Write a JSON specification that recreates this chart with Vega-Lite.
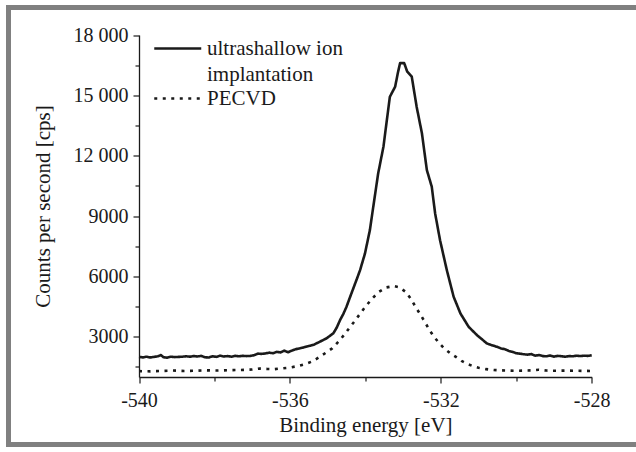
{
  "$schema": "https://vega.github.io/schema/vega-lite/v6.json",
  "width": 637.5,
  "height": 437,
  "autosize": {"type": "none"},
  "padding": {"left": 8.5, "top": 7.5, "right": -10, "bottom": 7.5},
  "background": "white",
  "config": {
    "font": "Liberation Serif",
    "view": {"stroke": "#808080", "strokeWidth": 5},
    "style": {
      "guide-label": {"font": "Liberation Serif", "fontSize": 20, "fill": "#1a1a1a", "lineHeight": 26},
      "guide-title": {"font": "Liberation Serif", "fontSize": 21, "fill": "#1a1a1a", "fontWeight": "normal"}
    },
    "axis": {
      "grid": false,
      "domainColor": "#1a1a1a",
      "domainWidth": 1.3,
      "tickColor": "#1a1a1a",
      "tickWidth": 1.2,
      "labelColor": "#1a1a1a",
      "labelFontSize": 20,
      "labelFont": "Liberation Serif",
      "titleColor": "#1a1a1a",
      "titleFontSize": 21,
      "titleFont": "Liberation Serif",
      "titleFontWeight": "normal"
    },
    "legend": {"labelFont": "Liberation Serif", "labelFontSize": 21}
  },
  "data": {
    "values": [
      {"E": -540.0, "cps": 2000, "series": "ultrashallow ion implantation"},
      {"E": -539.9, "cps": 1975, "series": "ultrashallow ion implantation"},
      {"E": -539.8, "cps": 2010, "series": "ultrashallow ion implantation"},
      {"E": -539.7, "cps": 1970, "series": "ultrashallow ion implantation"},
      {"E": -539.6, "cps": 2000, "series": "ultrashallow ion implantation"},
      {"E": -539.5, "cps": 2030, "series": "ultrashallow ion implantation"},
      {"E": -539.42, "cps": 2090, "series": "ultrashallow ion implantation"},
      {"E": -539.35, "cps": 1980, "series": "ultrashallow ion implantation"},
      {"E": -539.25, "cps": 1960, "series": "ultrashallow ion implantation"},
      {"E": -539.15, "cps": 2010, "series": "ultrashallow ion implantation"},
      {"E": -539.05, "cps": 1990, "series": "ultrashallow ion implantation"},
      {"E": -538.95, "cps": 2000, "series": "ultrashallow ion implantation"},
      {"E": -538.85, "cps": 2010, "series": "ultrashallow ion implantation"},
      {"E": -538.75, "cps": 2030, "series": "ultrashallow ion implantation"},
      {"E": -538.65, "cps": 2010, "series": "ultrashallow ion implantation"},
      {"E": -538.55, "cps": 2040, "series": "ultrashallow ion implantation"},
      {"E": -538.45, "cps": 2020, "series": "ultrashallow ion implantation"},
      {"E": -538.35, "cps": 2050, "series": "ultrashallow ion implantation"},
      {"E": -538.25, "cps": 1980, "series": "ultrashallow ion implantation"},
      {"E": -538.15, "cps": 1970, "series": "ultrashallow ion implantation"},
      {"E": -538.05, "cps": 2030, "series": "ultrashallow ion implantation"},
      {"E": -537.95, "cps": 2000, "series": "ultrashallow ion implantation"},
      {"E": -537.85, "cps": 2060, "series": "ultrashallow ion implantation"},
      {"E": -537.75, "cps": 2020, "series": "ultrashallow ion implantation"},
      {"E": -537.65, "cps": 2040, "series": "ultrashallow ion implantation"},
      {"E": -537.55, "cps": 2010, "series": "ultrashallow ion implantation"},
      {"E": -537.45, "cps": 2050, "series": "ultrashallow ion implantation"},
      {"E": -537.35, "cps": 2030, "series": "ultrashallow ion implantation"},
      {"E": -537.25, "cps": 2050, "series": "ultrashallow ion implantation"},
      {"E": -537.15, "cps": 2040, "series": "ultrashallow ion implantation"},
      {"E": -537.05, "cps": 2050, "series": "ultrashallow ion implantation"},
      {"E": -536.95, "cps": 2080, "series": "ultrashallow ion implantation"},
      {"E": -536.85, "cps": 2160, "series": "ultrashallow ion implantation"},
      {"E": -536.75, "cps": 2150, "series": "ultrashallow ion implantation"},
      {"E": -536.65, "cps": 2170, "series": "ultrashallow ion implantation"},
      {"E": -536.55, "cps": 2210, "series": "ultrashallow ion implantation"},
      {"E": -536.45, "cps": 2180, "series": "ultrashallow ion implantation"},
      {"E": -536.35, "cps": 2250, "series": "ultrashallow ion implantation"},
      {"E": -536.25, "cps": 2220, "series": "ultrashallow ion implantation"},
      {"E": -536.15, "cps": 2310, "series": "ultrashallow ion implantation"},
      {"E": -536.05, "cps": 2230, "series": "ultrashallow ion implantation"},
      {"E": -535.95, "cps": 2310, "series": "ultrashallow ion implantation"},
      {"E": -535.85, "cps": 2380, "series": "ultrashallow ion implantation"},
      {"E": -535.75, "cps": 2420, "series": "ultrashallow ion implantation"},
      {"E": -535.65, "cps": 2460, "series": "ultrashallow ion implantation"},
      {"E": -535.55, "cps": 2520, "series": "ultrashallow ion implantation"},
      {"E": -535.45, "cps": 2560, "series": "ultrashallow ion implantation"},
      {"E": -535.35, "cps": 2620, "series": "ultrashallow ion implantation"},
      {"E": -535.21, "cps": 2750, "series": "ultrashallow ion implantation"},
      {"E": -535.03, "cps": 2920, "series": "ultrashallow ion implantation"},
      {"E": -534.85, "cps": 3170, "series": "ultrashallow ion implantation"},
      {"E": -534.76, "cps": 3450, "series": "ultrashallow ion implantation"},
      {"E": -534.67, "cps": 3830, "series": "ultrashallow ion implantation"},
      {"E": -534.58, "cps": 4150, "series": "ultrashallow ion implantation"},
      {"E": -534.5, "cps": 4490, "series": "ultrashallow ion implantation"},
      {"E": -534.41, "cps": 4950, "series": "ultrashallow ion implantation"},
      {"E": -534.32, "cps": 5400, "series": "ultrashallow ion implantation"},
      {"E": -534.23, "cps": 5850, "series": "ultrashallow ion implantation"},
      {"E": -534.14, "cps": 6310, "series": "ultrashallow ion implantation"},
      {"E": -534.01, "cps": 7140, "series": "ultrashallow ion implantation"},
      {"E": -533.88, "cps": 8300, "series": "ultrashallow ion implantation"},
      {"E": -533.79, "cps": 9460, "series": "ultrashallow ion implantation"},
      {"E": -533.66, "cps": 11120, "series": "ultrashallow ion implantation"},
      {"E": -533.52, "cps": 12450, "series": "ultrashallow ion implantation"},
      {"E": -533.43, "cps": 13770, "series": "ultrashallow ion implantation"},
      {"E": -533.35, "cps": 14930, "series": "ultrashallow ion implantation"},
      {"E": -533.21, "cps": 15430, "series": "ultrashallow ion implantation"},
      {"E": -533.14, "cps": 16100, "series": "ultrashallow ion implantation"},
      {"E": -533.08, "cps": 16600, "series": "ultrashallow ion implantation"},
      {"E": -532.97, "cps": 16600, "series": "ultrashallow ion implantation"},
      {"E": -532.89, "cps": 16180, "series": "ultrashallow ion implantation"},
      {"E": -532.77, "cps": 15930, "series": "ultrashallow ion implantation"},
      {"E": -532.64, "cps": 14430, "series": "ultrashallow ion implantation"},
      {"E": -532.5, "cps": 13110, "series": "ultrashallow ion implantation"},
      {"E": -532.37, "cps": 11290, "series": "ultrashallow ion implantation"},
      {"E": -532.24, "cps": 10460, "series": "ultrashallow ion implantation"},
      {"E": -532.15, "cps": 9130, "series": "ultrashallow ion implantation"},
      {"E": -532.02, "cps": 7800, "series": "ultrashallow ion implantation"},
      {"E": -531.84, "cps": 6310, "series": "ultrashallow ion implantation"},
      {"E": -531.66, "cps": 4990, "series": "ultrashallow ion implantation"},
      {"E": -531.48, "cps": 4160, "series": "ultrashallow ion implantation"},
      {"E": -531.26, "cps": 3490, "series": "ultrashallow ion implantation"},
      {"E": -531.04, "cps": 3080, "series": "ultrashallow ion implantation"},
      {"E": -530.9, "cps": 2860, "series": "ultrashallow ion implantation"},
      {"E": -530.78, "cps": 2670, "series": "ultrashallow ion implantation"},
      {"E": -530.65, "cps": 2580, "series": "ultrashallow ion implantation"},
      {"E": -530.51, "cps": 2500, "series": "ultrashallow ion implantation"},
      {"E": -530.4, "cps": 2420, "series": "ultrashallow ion implantation"},
      {"E": -530.3, "cps": 2380, "series": "ultrashallow ion implantation"},
      {"E": -530.2, "cps": 2300, "series": "ultrashallow ion implantation"},
      {"E": -530.1, "cps": 2250, "series": "ultrashallow ion implantation"},
      {"E": -530.0, "cps": 2180, "series": "ultrashallow ion implantation"},
      {"E": -529.9, "cps": 2160, "series": "ultrashallow ion implantation"},
      {"E": -529.8, "cps": 2130, "series": "ultrashallow ion implantation"},
      {"E": -529.7, "cps": 2110, "series": "ultrashallow ion implantation"},
      {"E": -529.6, "cps": 2140, "series": "ultrashallow ion implantation"},
      {"E": -529.5, "cps": 2060, "series": "ultrashallow ion implantation"},
      {"E": -529.4, "cps": 2090, "series": "ultrashallow ion implantation"},
      {"E": -529.3, "cps": 2040, "series": "ultrashallow ion implantation"},
      {"E": -529.2, "cps": 2030, "series": "ultrashallow ion implantation"},
      {"E": -529.1, "cps": 2070, "series": "ultrashallow ion implantation"},
      {"E": -529.0, "cps": 2010, "series": "ultrashallow ion implantation"},
      {"E": -528.9, "cps": 2050, "series": "ultrashallow ion implantation"},
      {"E": -528.8, "cps": 2030, "series": "ultrashallow ion implantation"},
      {"E": -528.7, "cps": 2010, "series": "ultrashallow ion implantation"},
      {"E": -528.6, "cps": 2040, "series": "ultrashallow ion implantation"},
      {"E": -528.5, "cps": 2030, "series": "ultrashallow ion implantation"},
      {"E": -528.4, "cps": 2060, "series": "ultrashallow ion implantation"},
      {"E": -528.3, "cps": 2040, "series": "ultrashallow ion implantation"},
      {"E": -528.2, "cps": 2060, "series": "ultrashallow ion implantation"},
      {"E": -528.1, "cps": 2050, "series": "ultrashallow ion implantation"},
      {"E": -528.0, "cps": 2080, "series": "ultrashallow ion implantation"},
      {"E": -540.0, "cps": 1290, "series": "PECVD"},
      {"E": -539.7, "cps": 1280, "series": "PECVD"},
      {"E": -539.4, "cps": 1300, "series": "PECVD"},
      {"E": -539.1, "cps": 1320, "series": "PECVD"},
      {"E": -538.8, "cps": 1300, "series": "PECVD"},
      {"E": -538.5, "cps": 1310, "series": "PECVD"},
      {"E": -538.2, "cps": 1330, "series": "PECVD"},
      {"E": -537.9, "cps": 1320, "series": "PECVD"},
      {"E": -537.6, "cps": 1340, "series": "PECVD"},
      {"E": -537.3, "cps": 1350, "series": "PECVD"},
      {"E": -537.0, "cps": 1370, "series": "PECVD"},
      {"E": -536.8, "cps": 1420, "series": "PECVD"},
      {"E": -536.6, "cps": 1400, "series": "PECVD"},
      {"E": -536.4, "cps": 1390, "series": "PECVD"},
      {"E": -536.2, "cps": 1430, "series": "PECVD"},
      {"E": -536.0, "cps": 1470, "series": "PECVD"},
      {"E": -535.8, "cps": 1540, "series": "PECVD"},
      {"E": -535.6, "cps": 1640, "series": "PECVD"},
      {"E": -535.4, "cps": 1780, "series": "PECVD"},
      {"E": -535.21, "cps": 2000, "series": "PECVD"},
      {"E": -535.05, "cps": 2200, "series": "PECVD"},
      {"E": -534.88, "cps": 2420, "series": "PECVD"},
      {"E": -534.7, "cps": 2780, "series": "PECVD"},
      {"E": -534.53, "cps": 3170, "series": "PECVD"},
      {"E": -534.4, "cps": 3500, "series": "PECVD"},
      {"E": -534.26, "cps": 3830, "series": "PECVD"},
      {"E": -534.13, "cps": 4170, "series": "PECVD"},
      {"E": -534.0, "cps": 4490, "series": "PECVD"},
      {"E": -533.82, "cps": 4900, "series": "PECVD"},
      {"E": -533.64, "cps": 5230, "series": "PECVD"},
      {"E": -533.45, "cps": 5450, "series": "PECVD"},
      {"E": -533.24, "cps": 5520, "series": "PECVD"},
      {"E": -533.1, "cps": 5460, "series": "PECVD"},
      {"E": -532.93, "cps": 5230, "series": "PECVD"},
      {"E": -532.8, "cps": 4900, "series": "PECVD"},
      {"E": -532.67, "cps": 4490, "series": "PECVD"},
      {"E": -532.53, "cps": 4070, "series": "PECVD"},
      {"E": -532.4, "cps": 3660, "series": "PECVD"},
      {"E": -532.29, "cps": 3300, "series": "PECVD"},
      {"E": -532.18, "cps": 3000, "series": "PECVD"},
      {"E": -532.05, "cps": 2700, "series": "PECVD"},
      {"E": -531.91, "cps": 2420, "series": "PECVD"},
      {"E": -531.75, "cps": 2180, "series": "PECVD"},
      {"E": -531.6, "cps": 2000, "series": "PECVD"},
      {"E": -531.45, "cps": 1800, "series": "PECVD"},
      {"E": -531.3, "cps": 1650, "series": "PECVD"},
      {"E": -531.15, "cps": 1540, "series": "PECVD"},
      {"E": -531.0, "cps": 1460, "series": "PECVD"},
      {"E": -530.8, "cps": 1390, "series": "PECVD"},
      {"E": -530.6, "cps": 1350, "series": "PECVD"},
      {"E": -530.4, "cps": 1330, "series": "PECVD"},
      {"E": -530.2, "cps": 1320, "series": "PECVD"},
      {"E": -530.0, "cps": 1310, "series": "PECVD"},
      {"E": -529.8, "cps": 1320, "series": "PECVD"},
      {"E": -529.6, "cps": 1330, "series": "PECVD"},
      {"E": -529.4, "cps": 1360, "series": "PECVD"},
      {"E": -529.2, "cps": 1320, "series": "PECVD"},
      {"E": -529.0, "cps": 1310, "series": "PECVD"},
      {"E": -528.7, "cps": 1320, "series": "PECVD"},
      {"E": -528.4, "cps": 1310, "series": "PECVD"},
      {"E": -528.0, "cps": 1300, "series": "PECVD"}
    ]
  },
  "mark": {"type": "line", "color": "#1a1a1a", "strokeWidth": 2.6, "strokeJoin": "round"},
  "encoding": {
    "x": {
      "field": "E",
      "type": "quantitative",
      "scale": {"domain": [-540, -528], "range": [130.5, 583.2], "nice": false, "zero": false},
      "axis": {
        "title": "Binding energy [eV]",
        "values": [-540, -538, -536, -534, -532, -530, -528],
        "offset": -67.5,
        "labelFlush": false,
        "labelOverlap": false,
        "labelPadding": 7,
        "titlePadding": 4,
        "labelExpr": "datum.value % 4 === 0 ? '' + datum.value : ''",
        "tickSize": {"condition": {"test": "datum.value % 4 === 0", "value": 6}, "value": 4}
      }
    },
    "y": {
      "field": "cps",
      "type": "quantitative",
      "scale": {"domain": [1000, 18000], "range": [369.5, 27.5], "nice": false, "zero": false},
      "axis": {
        "title": "Counts per second [cps]",
        "values": [1500, 3000, 4500, 6000, 7500, 9000, 10500, 12000, 13500, 15000, 16500, 18000],
        "offset": -130.5,
        "labelOverlap": false,
        "labelFlush": false,
        "labelPadding": 5,
        "titlePadding": 20,
        "labelExpr": "datum.value % 3000 !== 0 ? '' : (datum.value >= 10000 ? floor(datum.value / 1000) + ' 000' : '' + datum.value)",
        "tickSize": {"condition": {"test": "datum.value % 3000 === 0", "value": 6}, "value": 4}
      }
    },
    "strokeDash": {
      "field": "series",
      "type": "nominal",
      "scale": {
        "domain": ["ultrashallow ion implantation", "PECVD"],
        "range": [[1, 0], [3, 5.5]]
      },
      "legend": {
        "title": null,
        "orient": "none",
        "legendX": 155.75,
        "legendY": 27.5,
        "padding": 0,
        "symbolType": "M-2,0H2",
        "symbolSize": 552,
        "symbolStrokeWidth": 2.6,
        "symbolStrokeColor": "#1a1a1a",
        "symbolFillColor": "transparent",
        "labelFontSize": 21,
        "labelFont": "Liberation Serif",
        "labelColor": "#1a1a1a",
        "labelOffset": 15.75,
        "labelLimit": 400,
        "rowPadding": 0,
        "labelExpr": "datum.label === 'ultrashallow ion implantation' ? ['ultrashallow ion', 'implantation'] : datum.label"
      }
    }
  }
}
